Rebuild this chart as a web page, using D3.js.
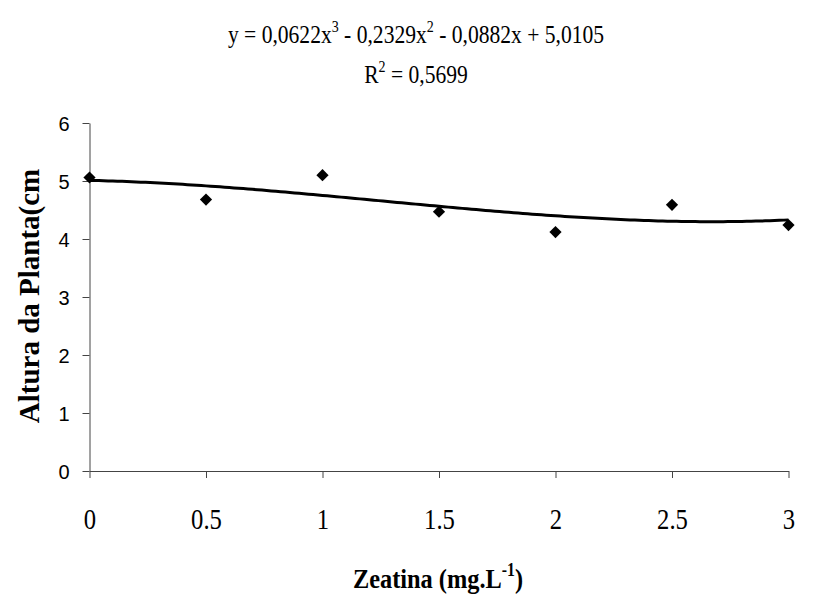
<!DOCTYPE html>
<html>
<head>
<meta charset="utf-8">
<script src="https://cdn.jsdelivr.net/npm/d3@7"></script>
<style>
  html, body { margin: 0; padding: 0; background: #fff; }
  svg { display: block; }
</style>
</head>
<body>
<svg id="chart" width="825" height="594"></svg>
<script>
// ---- data ----
const doses = [0, 0.5, 1, 1.5, 2, 2.5, 3];
const alturas = [5.06, 4.68, 5.10, 4.47, 4.12, 4.59, 4.24];
// cubic trendline coefficients shown on the chart (a3, a2, a1, a0)
const trendCoef = [0.0622, -0.2329, -0.0882, 5.0105];
const xTicks = [0, 0.5, 1, 1.5, 2, 2.5, 3];
const yTicks = [0, 1, 2, 3, 4, 5, 6];
const equationText = ["y = 0,0622x", "3", " - 0,2329x", "2", " - 0,0882x + 5,0105"];
const r2Text = ["R", "2", " = 0,5699"];
const yTitle = "Altura da Planta(cm";
const xTitle = ["Zeatina (mg.L", "-1", ")"];

// ---- layout ----
const svg = d3.select("#chart");
const plotL = 89.5, plotR = 788.5, plotT = 123, plotB = 471;
const x = d3.scaleLinear().domain([0, 3]).range([plotL, plotR]);
const y = d3.scaleLinear().domain([0, 6]).range([plotB, plotT]);

const SERIF = '"Liberation Serif"';
const SANS = '"Liberation Sans"';
const squeeze = 0.83;

// axes
const xAxis = svg.append("g").attr("transform", `translate(0,${plotB})`)
  .call(d3.axisBottom(x).tickValues(xTicks).tickSize(7).tickSizeOuter(0).tickFormat(d3.format("")));
xAxis.attr("font-family", null).attr("font-size", null);
xAxis.select(".domain").attr("stroke", "#444");
xAxis.selectAll(".tick line").attr("stroke", "#444");
xAxis.selectAll("text")
  .style("font-family", SERIF).style("font-size", "29px")
  .attr("fill", "#000").attr("y", 0).attr("dy", 0)
  .attr("transform", `translate(0,58) scale(0.85,1)`);

const yAxis = svg.append("g").attr("transform", `translate(${plotL},0)`)
  .call(d3.axisLeft(y).tickValues(yTicks).tickSize(7).tickSizeOuter(0).tickFormat(d3.format("d")));
yAxis.attr("font-family", null).attr("font-size", null);
yAxis.select(".domain").attr("stroke", "#444");
yAxis.selectAll(".tick line").attr("stroke", "#444");
yAxis.selectAll("text")
  .style("font-family", SANS).style("font-size", "20px")
  .attr("fill", "#000").attr("x", -20).attr("dy", "0.36em");

// trendline from the displayed cubic
const poly = v => trendCoef[0]*v*v*v + trendCoef[1]*v*v + trendCoef[2]*v + trendCoef[3];
const xs = d3.range(0, 3.0001, 0.02);
svg.append("path")
  .datum(xs)
  .attr("fill", "none")
  .attr("stroke", "#000")
  .attr("stroke-width", 3)
  .attr("d", d3.line().x(d => x(d)).y(d => y(poly(d))));

// points (diamonds)
const sym = d3.symbol().type(d3.symbolDiamond2).size(95);
svg.append("g").selectAll("path")
  .data(doses.map((d, i) => [d, alturas[i]]))
  .join("path")
  .attr("d", sym)
  .attr("transform", d => `translate(${x(d[0])},${y(d[1])})`)
  .attr("fill", "#000");

// text with superscripts
function supText(parts, cx, cy, size, weight, sx) {
  const t = svg.append("text")
    .attr("transform", `translate(${cx},${cy}) scale(${sx},1)`)
    .attr("text-anchor", "middle")
    .style("font-family", SERIF).style("font-size", size + "px")
    .style("font-weight", weight).attr("fill", "#000");
  parts.forEach((p, i) => {
    if (i % 2 === 1) {
      t.append("tspan").style("font-size", (size * 0.65) + "px").attr("dy", -size * 0.42).text(p);
    } else {
      t.append("tspan").attr("dy", i === 0 ? 0 : size * 0.42).text(p);
    }
  });
  return t;
}
supText(equationText, 416, 43, 26, "normal", squeeze);
supText(r2Text, 416, 83, 26, "normal", squeeze);
supText(xTitle, 438, 588, 28, "bold", 0.87);

// y axis title
svg.append("text")
  .attr("transform", `translate(39,296) rotate(-90)`)
  .attr("text-anchor", "middle")
  .style("font-family", SERIF).style("font-weight", "bold").style("font-size", "29px")
  .attr("fill", "#000").text(yTitle);
</script>
</body>
</html>
